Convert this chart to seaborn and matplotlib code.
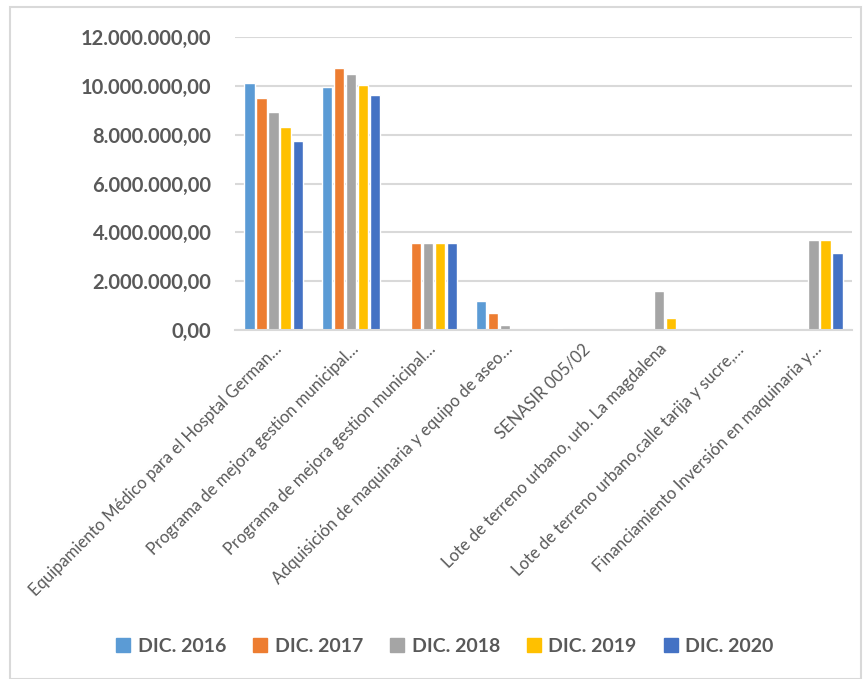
import pandas as pd
import matplotlib.pyplot as plt
import matplotlib.patches as mpatches
from matplotlib.ticker import FuncFormatter
import seaborn as sns

proyectos = [
    'Equipamiento Médico para el Hosptal German…',
    'Programa de mejora gestion municipal…',
    'Programa de mejora gestion municipal…',
    'Adquisición de maquinaria y equipo de aseo…',
    'SENASIR 005/02',
    'Lote de terreno urbano, urb. La magdalena',
    'Lote de terreno urbano,calle tarija y sucre,…',
    'Financiamiento Inversión en maquinaria y…',
]
anios = ['DIC. 2016', 'DIC. 2017', 'DIC. 2018', 'DIC. 2019', 'DIC. 2020']
dic_2016 = [10120000, 9970000, 0, 1200000, 100000, 0, 0, 0]
dic_2017 = [9520000, 10720000, 3580000, 710000, 0, 0, 0, 0]
dic_2018 = [8920000, 10500000, 3580000, 220000, 0, 1580000, 50000, 3700000]
dic_2019 = [8320000, 10050000, 3580000, 0, 0, 500000, 10000, 3700000]
dic_2020 = [7750000, 9620000, 3580000, 0, 0, 0, 0, 3160000]
colores = ['#5B9BD5', '#ED7D31', '#A5A5A5', '#FFC000', '#4472C4']

# tabla larga para seaborn (posicion = indice para no fusionar etiquetas repetidas)
filas = []
for anio, valores in zip(anios, [dic_2016, dic_2017, dic_2018, dic_2019, dic_2020]):
    for i, v in enumerate(valores):
        filas.append({'pos': i, 'anio': anio, 'monto': v})
dados = pd.DataFrame(filas)

sns.set_style('white')
plt.rcParams['font.family'] = ['Lato', 'DejaVu Sans']

fig = plt.figure(figsize=(8.68, 6.79), dpi=100)
ax = fig.add_axes([235 / 868, 1 - 330 / 679, (852 - 235) / 868, (330 - 37) / 679])

sns.barplot(data=dados, x='pos', y='monto', hue='anio', hue_order=anios,
            palette=colores, saturation=1, width=0.78, gap=0.15, ax=ax, legend=False)

ax.set_ylim(0, 12000000)
ax.set_xlim(-0.5, 7.5)
ax.set_yticks(range(0, 12000001, 2000000))
ax.yaxis.set_major_formatter(FuncFormatter(
    lambda v, p: f'{v:,.2f}'.replace(',', 'X').replace('.', ',').replace('X', '.')))
ax.grid(axis='y', color='#D9D9D9', linewidth=1.5)
ax.set_axisbelow(True)
for s in ['top', 'right', 'left']:
    ax.spines[s].set_visible(False)
ax.spines['bottom'].set_color('#D9D9D9')
ax.spines['bottom'].set_linewidth(1.5)
ax.tick_params(axis='both', length=0)
ax.tick_params(axis='y', pad=17)
for t in ax.get_yticklabels():
    t.set_fontsize(14.5)
    t.set_fontweight('bold')
    t.set_color('#595959')

ax.set_xticks(range(len(proyectos)))
ax.set_xticklabels(proyectos, rotation=45, ha='right', rotation_mode='anchor',
                   fontsize=12, color='#595959')
ax.tick_params(axis='x', pad=8)
ax.set_xlabel('')
ax.set_ylabel('')

handles = [mpatches.Patch(color=c, label=a) for c, a in zip(colores, anios)]
fig.legend(handles=handles, loc='center', bbox_to_anchor=(445 / 868, 1 - 646 / 679),
           ncol=5, frameon=False, prop={'size': 14, 'weight': 'bold'},
           handlelength=0.7, handleheight=0.7, columnspacing=1.4, handletextpad=0.4,
           labelcolor='#595959')

fig.patches.append(mpatches.Rectangle((10 / 868, 0), 851 / 868, 1 - 7 / 679,
                                      transform=fig.transFigure, fill=False,
                                      edgecolor='#D9D9D9', linewidth=1.5))

plt.savefig('out.png', dpi=100)
